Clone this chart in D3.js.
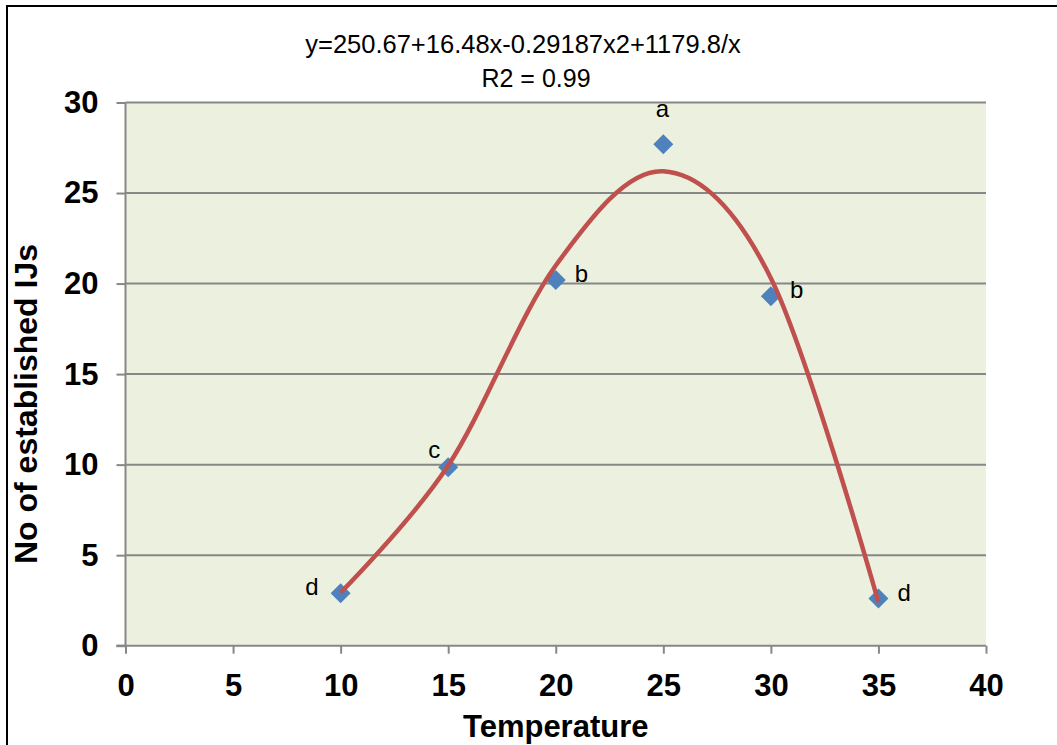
<!DOCTYPE html>
<html>
<head>
<meta charset="utf-8">
<script src="https://cdn.jsdelivr.net/npm/d3@7"></script>
<style>
  html, body { margin: 0; padding: 0; background: #ffffff; }
  svg { display: block; }
</style>
</head>
<body>
<svg id="chart" width="1057" height="745"></svg>
<script>
// ---- data ----
const temperatures = [10, 15, 20, 25, 30, 35];
const observedIJs = [2.9, 9.85, 20.2, 27.7, 19.3, 2.6];
const fittedIJs = [2.93, 9.95, 21.0, 26.2, 20.3, 2.4];
const groupLetters = ["d", "c", "b", "a", "b", "d"];
const letterPlacement = ["left", "above-left", "right", "above", "right", "right"];
const xTickValues = [0, 5, 10, 15, 20, 25, 30, 35, 40];
const yTickValues = [0, 5, 10, 15, 20, 25, 30];
const equationText = "y=250.67+16.48x-0.29187x2+1179.8/x";
const r2Text = "R2 = 0.99";
const xTitle = "Temperature";
const yTitle = "No of established IJs";

// ---- layout ----
const svg = d3.select("#chart");
const plot = { left: 125.5, right: 986, top: 102.5, bottom: 645.7 };
const x = d3.scaleLinear().domain([0, 40]).range([plot.left, plot.right]);
const y = d3.scaleLinear().domain([0, 30]).range([plot.bottom, plot.top]);

const gridColor = "#878787";
const axisFont = "'Liberation Sans', Arial, sans-serif";

// white background
svg.append("rect").attr("x", 0).attr("y", 0).attr("width", 1057).attr("height", 745).attr("fill", "#ffffff");

// chart outer border (top and left visible)
svg.append("path")
  .attr("d", "M7,745 L7,6 L1057,6")
  .attr("fill", "none").attr("stroke", "#000").attr("stroke-width", 2);

// plot area background
svg.append("rect")
  .attr("x", plot.left).attr("y", plot.top)
  .attr("width", plot.right - plot.left).attr("height", plot.bottom - plot.top)
  .attr("fill", "#EBF1DE");

// gridlines
svg.append("g").selectAll("line")
  .data(yTickValues.filter(v => v > 0))
  .join("line")
  .attr("x1", plot.left).attr("x2", plot.right)
  .attr("y1", d => y(d)).attr("y2", d => y(d))
  .attr("stroke", gridColor).attr("stroke-width", 2);

// axes
const yAxis = d3.axisLeft(y).tickValues(yTickValues).tickSize(9).tickPadding(18).tickFormat(d3.format("d"));
const xAxis = d3.axisBottom(x).tickValues(xTickValues).tickSize(8).tickPadding(20).tickFormat(d3.format("d"));

const gy = svg.append("g").attr("transform", `translate(${plot.left},0)`).call(yAxis);
const gx = svg.append("g").attr("transform", `translate(0,${plot.bottom})`).call(xAxis);

[gx, gy].forEach(g => {
  g.select(".domain").attr("stroke", gridColor).attr("stroke-width", 2);
  g.selectAll(".tick line").attr("stroke", gridColor).attr("stroke-width", 2);
  g.selectAll(".tick text")
    .attr("fill", "#000")
    .style("font-family", axisFont)
    .style("font-size", "31px")
    .style("font-weight", "bold");
});
gy.select(".domain").attr("d", `M-9,${plot.bottom}H0V${plot.top}`);
gx.select(".domain").attr("d", `M${plot.left - 9},0H${plot.right}`);

// markers
const diamond = d3.symbol().type(d3.symbolSquare).size(200);
svg.append("g").selectAll("path")
  .data(temperatures.map((t, i) => ({ t, v: observedIJs[i] })))
  .join("path")
  .attr("d", diamond)
  .attr("transform", d => `translate(${x(d.t)},${y(d.v)}) rotate(45)`)
  .attr("fill", "#4F81BD");

// fitted curve
const line = d3.line()
  .x((d, i) => x(temperatures[i]))
  .y(d => y(d))
  .curve(d3.curveCardinal.tension(0));
svg.append("path")
  .datum(fittedIJs)
  .attr("d", line)
  .attr("fill", "none")
  .attr("stroke", "#C0504D")
  .attr("stroke-width", 4.5)
  .attr("stroke-linejoin", "round");

// data letters
const labelFont = "'Liberation Sans', Arial, sans-serif";
svg.append("g").selectAll("text")
  .data(temperatures.map((t, i) => ({ t, v: observedIJs[i], s: groupLetters[i], p: letterPlacement[i] })))
  .join("text")
  .attr("x", d => {
    const px = x(d.t);
    if (d.p === "left") return px - 22;
    if (d.p === "right") return px + 19;
    if (d.p === "above-left") return px - 14;
    return px - 1;
  })
  .attr("y", d => {
    const py = y(d.v);
    if (d.p === "above") return py - 27;
    if (d.p === "above-left") return py - 9;
    return py + 2;
  })
  .attr("text-anchor", d => d.p === "left" ? "end" : (d.p === "right" ? "start" : "middle"))
  .style("font-family", labelFont)
  .style("font-size", "24px")
  .attr("fill", "#000")
  .text(d => d.s);

// equation text
svg.append("text")
  .attr("x", 523).attr("y", 53)
  .attr("text-anchor", "middle")
  .style("font-family", labelFont)
  .style("font-size", "25.5px")
  .attr("fill", "#000")
  .text(equationText);
svg.append("text")
  .attr("x", 536).attr("y", 87)
  .attr("text-anchor", "middle")
  .style("font-family", labelFont)
  .style("font-size", "25px")
  .attr("fill", "#000")
  .text(r2Text);

// axis titles
svg.append("text")
  .attr("x", (plot.left + plot.right) / 2).attr("y", 737)
  .attr("text-anchor", "middle")
  .style("font-family", axisFont)
  .style("font-size", "31px")
  .style("font-weight", "bold")
  .attr("fill", "#000")
  .text(xTitle);
svg.append("text")
  .attr("transform", "translate(37,404) rotate(-90)")
  .attr("text-anchor", "middle")
  .style("font-family", axisFont)
  .style("font-size", "32px")
  .style("font-weight", "bold")
  .attr("fill", "#000")
  .text(yTitle);
</script>
</body>
</html>
